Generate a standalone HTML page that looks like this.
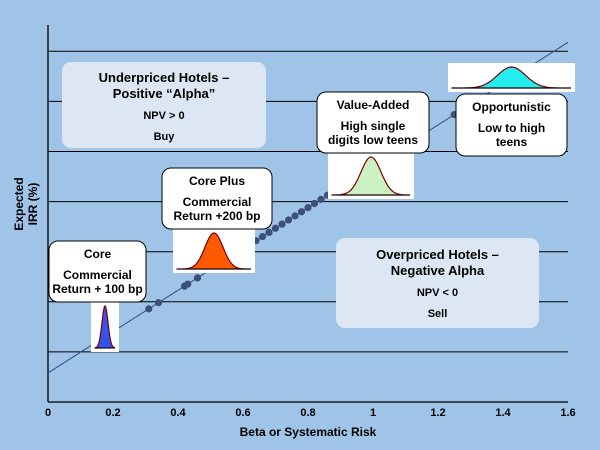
<!DOCTYPE html>
<html><head><meta charset="utf-8">
<style>
body{margin:0;background:#9dc3e6;}
svg{display:block;font-family:"Liberation Sans",Arial,sans-serif;font-weight:bold;}
</style></head>
<body>
<svg id="c" width="600" height="450" viewBox="0 0 600 450">
<rect width="600" height="450" fill="#9fc4e7"/>
<g id="grid"></g>
<g id="axes"></g>
<g id="series"></g>
<g id="boxes"></g>
</svg>
<script>
const xTicks=[0,0.2,0.4,0.6,0.8,1,1.2,1.4,1.6];
const xTickLabels=["0","0.2","0.4","0.6","0.8","1","1.2","1.4","1.6"];
const yGrid=[1,2,3,4,5,6,7];
const lineBeta=[0,1.6];
const lineIRR=[0.58,7.18];
const dotBeta=[0.31,0.34,0.42,0.43,0.46,0.5,0.52,0.55,0.58,0.6,0.62,0.64,0.66,0.68,0.7,0.72,0.74,0.76,0.78,0.8,0.82,0.84,0.86,1.25];
const dotIRR=dotBeta.map(b=>0.58+4.125*b);
const NS="http://www.w3.org/2000/svg";
const X0=48,X1=568,Y0=402,YS=50.1;
const xs=b=>X0+(X1-X0)*b/1.6;
const ys=v=>Y0-v*YS;
function mk(t,a,p){const e=document.createElementNS(NS,t);for(const k in a)e.setAttribute(k,a[k]);p.appendChild(e);return e;}
const grid=document.getElementById('grid'),axes=document.getElementById('axes'),ser=document.getElementById('series'),bx=document.getElementById('boxes');
yGrid.forEach(v=>{const l=mk('line',{x1:X0,x2:X1,y1:ys(v),y2:ys(v),stroke:'#000','stroke-width':1},grid);

});
let a=mk('line',{x1:X0,x2:X0,y1:25,y2:Y0,stroke:'#000','stroke-width':1.3},axes);

a=mk('line',{x1:X0,x2:X1,y1:Y0,y2:Y0,stroke:'#000','stroke-width':1.3},axes);

xTicks.forEach((t,i)=>{const e=mk('text',{x:xs(t),y:416,'text-anchor':'middle','font-size':11,fill:'#000'},axes);e.textContent=xTickLabels[i];

});
let t=mk('text',{x:308,y:436,'text-anchor':'middle','font-size':12},axes);t.textContent='Beta or Systematic Risk';

t=mk('text',{transform:'translate(23,204) rotate(-90)','text-anchor':'middle','font-size':12},axes);
t.innerHTML='<tspan x="0" dy="0">Expected</tspan><tspan x="0" dy="14">IRR (%)</tspan>';

let ln=mk('line',{x1:xs(lineBeta[0]),y1:ys(lineIRR[0]),x2:xs(lineBeta[1]),y2:ys(lineIRR[1]),stroke:'#2f4a8a','stroke-width':1},ser);

dotBeta.forEach((b,i)=>{const d=mk('circle',{cx:xs(b),cy:ys(dotIRR[i]),r:3.6,fill:'#3e4f78'},ser);

});
function dist(x,y,w,h,fill,sd,name){
 const g=mk('g',{},bx);
 mk('rect',{x:x,y:y,width:w,height:h,fill:'#fff'},g);
 const bl=y+h-4,cx=x+w/2,pk=h-8;let p=`M${x+4},${bl}`;
 for(let i=0;i<=60;i++){const px=x+4+(w-8)*i/60;const z=(px-cx)/sd;p+=` L${px},${bl-pk*Math.exp(-z*z/2)}`;}
 mk('path',{d:p+' Z',fill:fill,stroke:'#7a0000','stroke-width':1.2},g);
 mk('line',{x1:x+4,x2:x+w-4,y1:bl,y2:bl,stroke:'#000','stroke-width':1},g);}
function box(x,y,w,h,fill,stroke,lines,name){
 const g=mk('g',{},bx);
 mk('rect',{x:x,y:y,width:w,height:h,rx:9,fill:fill,stroke:stroke,'stroke-width':1},g);
 lines.forEach(l=>{const e=mk('text',{x:x+w/2,y:l[1],'text-anchor':'middle','font-size':l[2]||11},g);e.textContent=l[0];});}
box(62,62,204,86,'#dde7f3','none',[["Underpriced Hotels –",82,13],["Positive “Alpha”",98,13],["NPV > 0",119,11],["Buy",140,11]],'underpriced-box');
box(336,238,203,90,'#dde7f3','none',[["Overpriced Hotels –",259,13],["Negative Alpha",275,13],["NPV < 0",296,11],["Sell",317,11]],'overpriced-box');
dist(91,302,28,50,'#3355ee',3,'core-distribution');
box(49,241,97,61,'#fff','#000',[["Core",258,12],["Commercial",279,12],["Return + 100 bp",293,12]],'core-box');
dist(173,229,82,44,'#ff5a00',9,'core-plus-distribution');
box(162,168,110,61,'#fff','#000',[["Core Plus",185,12],["Commercial",206,12],["Return +200 bp",220,12]],'core-plus-box');
dist(328,153,86,46,'#ccf2c4',10,'value-added-distribution');
box(317,92,112,61,'#fff','#000',[["Value-Added",109,12],["High single",130,12],["digits low teens",144,12]],'value-added-box');
dist(448,63,127,29,'#22eef0',14,'opportunistic-distribution');
box(456,94,111,62,'#fff','#000',[["Opportunistic",111,12],["Low to high",132,12],["teens",146,12]],'opportunistic-box');
</script>
</body></html>
